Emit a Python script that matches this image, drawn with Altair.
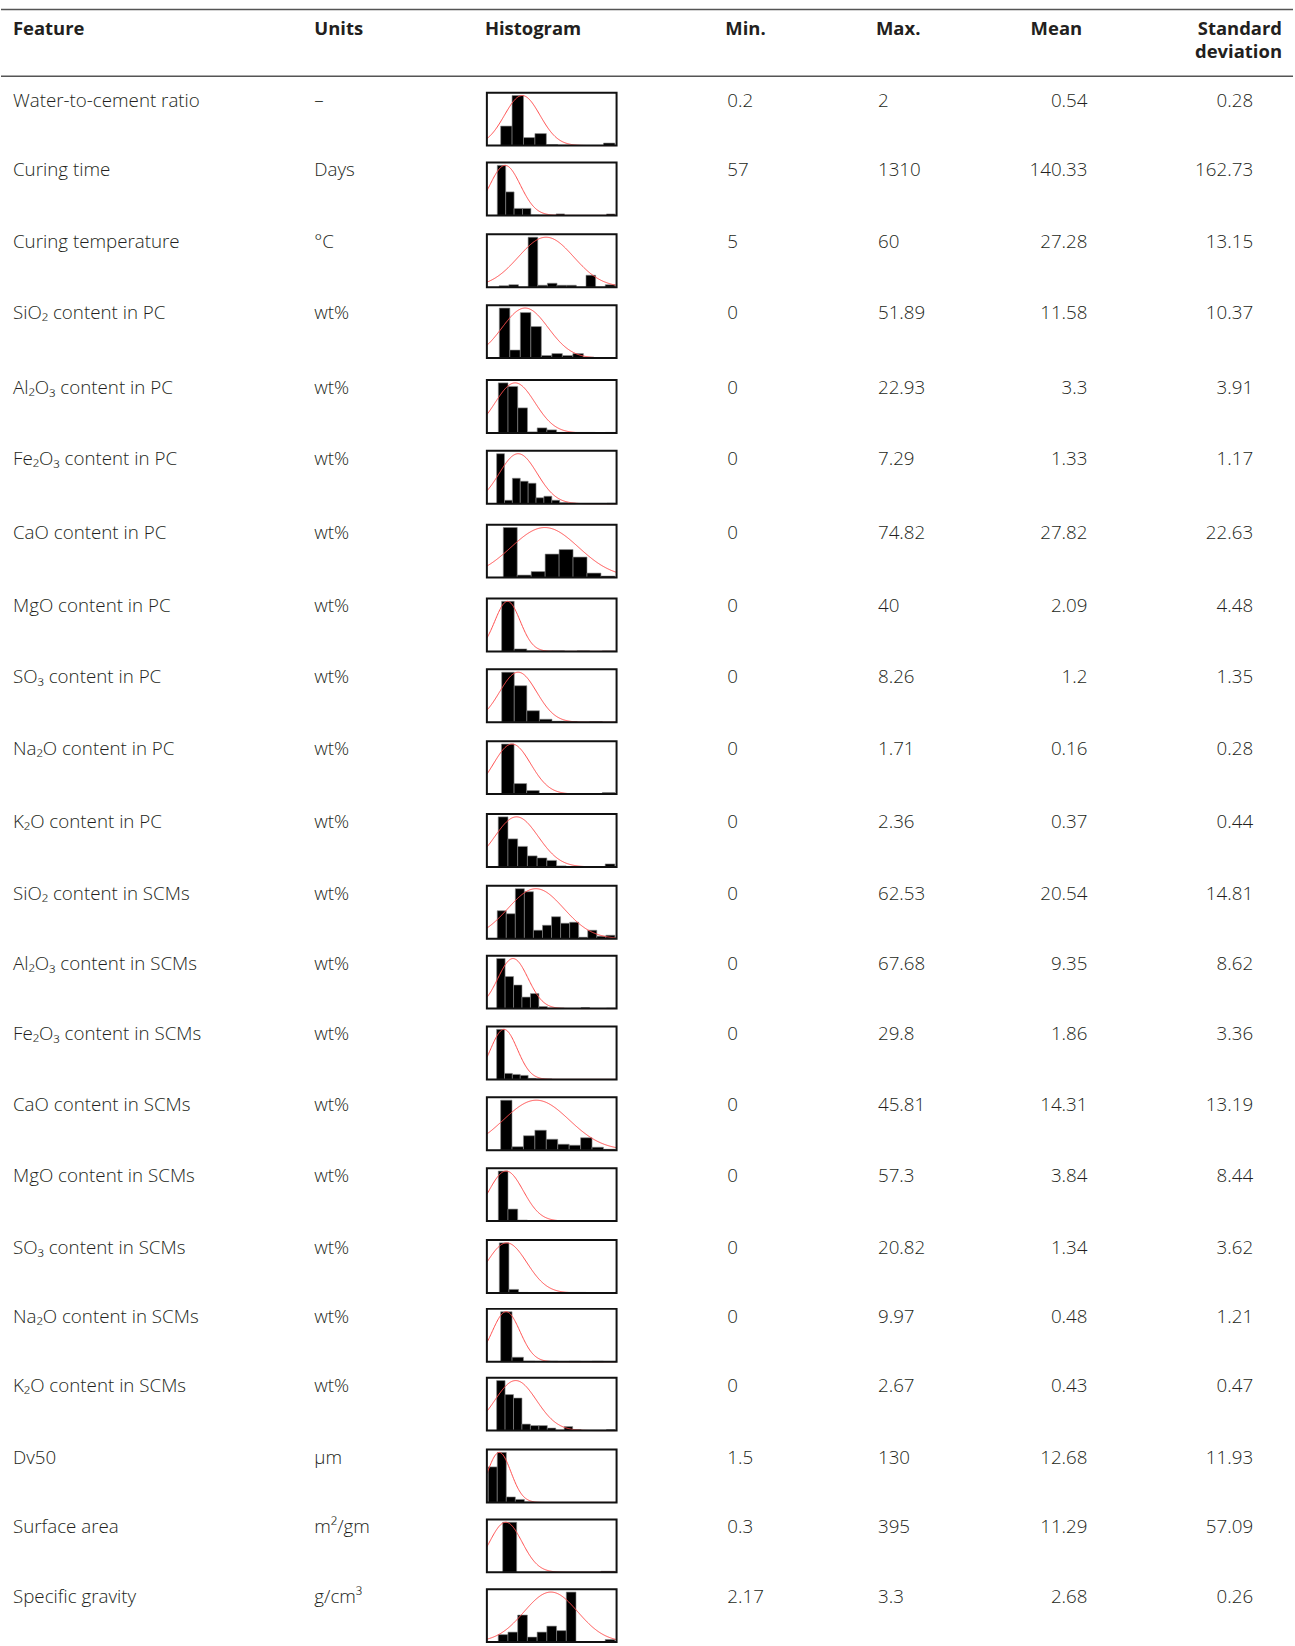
import altair as alt
import pandas as pd

# ---- table content -------------------------------------------------------
features = [
    "Water-to-cement ratio", "Curing time", "Curing temperature",
    "SiO₂ content in PC", "Al₂O₃ content in PC", "Fe₂O₃ content in PC",
    "CaO content in PC", "MgO content in PC", "SO₃ content in PC",
    "Na₂O content in PC", "K₂O content in PC",
    "SiO₂ content in SCMs", "Al₂O₃ content in SCMs", "Fe₂O₃ content in SCMs",
    "CaO content in SCMs", "MgO content in SCMs", "SO₃ content in SCMs",
    "Na₂O content in SCMs", "K₂O content in SCMs",
    "Dv50", "Surface area", "Specific gravity",
]
units = ["–", "Days", "°C"] + ["wt%"] * 16 + ["μm", "m²/gm", "g/cm³"]
mins = [0.2, 57, 5] + [0] * 16 + [1.5, 0.3, 2.17]
maxs = [2, 1310, 60, 51.89, 22.93, 7.29, 74.82, 40, 8.26, 1.71, 2.36,
        62.53, 67.68, 29.8, 45.81, 57.3, 20.82, 9.97, 2.67, 130, 395, 3.3]
means = [0.54, 140.33, 27.28, 11.58, 3.3, 1.33, 27.82, 2.09, 1.2, 0.16, 0.37,
         20.54, 9.35, 1.86, 14.31, 3.84, 1.34, 0.48, 0.43, 12.68, 11.29, 2.68]
sds = [0.28, 162.73, 13.15, 10.37, 3.91, 1.17, 22.63, 4.48, 1.35, 0.28, 0.44,
       14.81, 8.62, 3.36, 13.19, 8.44, 3.62, 1.21, 0.47, 11.93, 57.09, 0.26]

# relative bin heights (tallest bin = 100), equal-width bins from min to max
counts = [
    [39, 100, 16, 24, 2, 1, 0, 0, 0, 5],
    [100, 47, 14, 14, 1, 1, 0, 3, 0, 0, 0, 0, 0, 3],
    [3, 5, 0, 100, 4, 8, 4, 4, 0, 24, 0, 5],
    [100, 16, 91, 63, 5, 9, 5, 9, 2, 1, 1],
    [100, 93, 50, 2, 10, 6, 1, 0, 1, 1, 0, 1],
    [100, 7, 51, 45, 41, 12, 15, 7, 2, 1, 0, 0, 0, 0, 1],
    [100, 5, 12, 47, 56, 41, 9, 3],
    [100, 5, 1, 1, 1, 0, 1, 0, 1],
    [100, 73, 23, 6, 2, 1, 0, 1, 0],
    [100, 21, 7, 0, 0, 0, 0, 0, 3],
    [100, 56, 41, 22, 18, 13, 2, 0, 0, 0, 0, 6],
    [56, 50, 100, 94, 17, 27, 44, 31, 33, 3, 17, 5, 7],
    [100, 64, 47, 23, 30, 4, 1, 1, 0, 0, 2, 0, 0, 1],
    [100, 12, 10, 8, 2, 1, 1, 0, 0, 0, 0, 0, 0, 0, 0],
    [100, 7, 29, 40, 22, 12, 10, 25, 6, 2],
    [100, 24, 2, 0, 0, 0, 0, 0, 0, 1, 0, 1],
    [100, 7, 1, 0, 0, 0, 0, 1, 1, 0, 0, 0],
    [100, 9, 1, 0, 1, 0, 1, 0, 1, 0],
    [100, 72, 65, 13, 10, 10, 5, 1, 8, 2, 1, 1, 1, 2],
    [71, 100, 11, 6, 1, 0, 0, 0, 0, 0, 0, 0, 0, 0],
    [100, 0, 0, 0, 0, 0, 0, 2],
    [15, 20, 54, 10, 20, 32, 23, 100, 0, 0, 0, 5],
]
# lower end of each histogram's x axis
axis_start = [-0.017, -54, -0.85, -5.58, -2.25, -0.60, -11.0, -5.2, -1.08,
              -0.22, -0.23, -5.5, -5.6, -2.45, -5.5, -5.6, -2.24, -1.2,
              -0.22, 0.14, -55.2, 2.06]

# ---- layout --------------------------------------------------------------
FONT = "Open Sans"
TXT = "#231f20"
FS = 18.8
HFS = 18.5
BOX_H = 53           # histogram panel height
BOX_W = 130
LEFT_W = 486
RIGHT_W = 1295 - LEFT_W - BOX_W
HEAD_H = 91
N = len(features)

# height of each table row in pixels (rows are not all the same height)
row_heights = [70, 72, 71, 75, 71, 74, 74, 71, 72, 73, 72,
               70, 71, 71, 71, 72, 69, 69, 72, 70, 70, 55]
row_tops = [sum(row_heights[:i]) for i in range(N)]
BODY_H = sum(row_heights)


def fmt(v):
    return f"{v:g}"


body = pd.DataFrame({
    "top": row_tops,
    "feature": features,
    "unit": units,
    "min": [fmt(v) for v in mins],
    "max": [fmt(v) for v in maxs],
    "mean": [fmt(v) for v in means],
    "sd": [fmt(v) for v in sds],
})

yrow = alt.Y("top:Q", axis=None,
             scale=alt.Scale(domain=[0, BODY_H], range=[0, BODY_H],
                             nice=False, zero=False))


def col_text(field, x, align):
    return alt.Chart(body).mark_text(
        align=align, baseline="alphabetic", dy=14, font=FONT,
        fontSize=FS, fontWeight=300, color=TXT,
    ).encode(x=alt.value(x), y=yrow, text=f"{field}:N")


left = alt.layer(
    col_text("feature", 12, "left"),
    col_text("unit", 314, "left"),
).properties(width=LEFT_W, height=BODY_H)

right = alt.layer(
    col_text("min", 726 - LEFT_W - BOX_W, "left"),
    col_text("max", 877 - LEFT_W - BOX_W, "left"),
    col_text("mean", 1087 - LEFT_W - BOX_W, "right"),
    col_text("sd", 1253 - LEFT_W - BOX_W, "right"),
).properties(width=RIGHT_W, height=BODY_H)


def histogram(i):
    n = len(counts[i])
    lo, hi = mins[i], maxs[i]
    w = (hi - lo) / n
    bins = pd.DataFrame([
        {"x0": lo + k * w, "x1": lo + (k + 1) * w, "c": c}
        for k, c in enumerate(counts[i]) if c > 0
    ])
    x_lo = axis_start[i]
    x_hi = hi + 0.013 * (hi - x_lo)
    xs = alt.Scale(domain=[x_lo, x_hi], nice=False, zero=False)
    ys = alt.Scale(domain=[0, 105.7], range=[BOX_H, 0], nice=False)

    bars = alt.Chart(bins).mark_rect(
        color="black", stroke="#8a8a8a", strokeWidth=0.6
    ).encode(
        x=alt.X("x0:Q", scale=xs, axis=None),
        x2="x1:Q",
        y=alt.Y("c:Q", scale=ys, axis=None),
        y2=alt.datum(0),
    )

    # normal curve from the feature's mean and SD, peak scaled to tallest bin
    curve = alt.Chart(alt.sequence(0, 1.0001, 0.005, as_="t")).transform_calculate(
        x=f"{x_lo} + datum.t * {x_hi - x_lo}",
    ).transform_calculate(
        y=f"100 * exp(-0.5 * pow((datum.x - {means[i]}) / {sds[i]}, 2))",
    ).mark_line(color="#ff4d4d", strokeWidth=1, clip=True).encode(
        x=alt.X("x:Q", scale=xs, axis=None),
        y=alt.Y("y:Q", scale=ys, axis=None),
    )

    frame = alt.Chart(pd.DataFrame({"k": [0]})).mark_rect(
        fill=None, stroke="#111111", strokeWidth=2
    ).encode(x=alt.value(0), x2=alt.value(BOX_W),
             y=alt.value(0), y2=alt.value(BOX_H))

    return alt.layer(bars, curve, frame).properties(
        width=BOX_W, height=row_heights[i]
    )


hists = alt.vconcat(*[histogram(i) for i in range(N)],
                    spacing=0, bounds="flush")

# ---- header --------------------------------------------------------------
head = pd.DataFrame({
    "label": ["Feature", "Units", "Histogram", "Min.", "Max.", "Mean"],
    "x": [12, 314, 485, 726, 877, 1032],
})

header_text = alt.Chart(head).mark_text(
    align="left", baseline="alphabetic", font=FONT, fontSize=HFS,
    fontWeight="bold", color=TXT,
).encode(x=alt.X("x:Q", scale=alt.Scale(domain=[0, 1295], nice=False), axis=None),
         y=alt.value(33), text="label:N")

header_sd = alt.Chart(pd.DataFrame({"label": ["Standard\ndeviation"]})).mark_text(
    align="right", baseline="alphabetic", font=FONT, fontSize=HFS,
    fontWeight="bold", color=TXT, lineBreak="\n", lineHeight=23,
).encode(x=alt.value(1284), y=alt.value(33), text="label:N")

rule_top = alt.Chart(pd.DataFrame({"k": [0]})).mark_rule(
    color="#555555", strokeWidth=1.5
).encode(x=alt.value(0), x2=alt.value(1295), y=alt.value(7.5))

rule_head = alt.Chart(pd.DataFrame({"k": [0]})).mark_rule(
    color="#555555", strokeWidth=1.3
).encode(x=alt.value(0), x2=alt.value(1295), y=alt.value(74.5))

header = alt.layer(rule_top, rule_head, header_text, header_sd).properties(
    width=1295, height=HEAD_H
)

chart = alt.vconcat(
    header,
    alt.hconcat(left, hists, right, spacing=0),
    spacing=0,
    bounds="flush",
).properties(
    padding=0, background="white"
).configure_view(
    stroke=None
)

chart.save("out.html", embed_options={"renderer": "svg", "actions": False})
